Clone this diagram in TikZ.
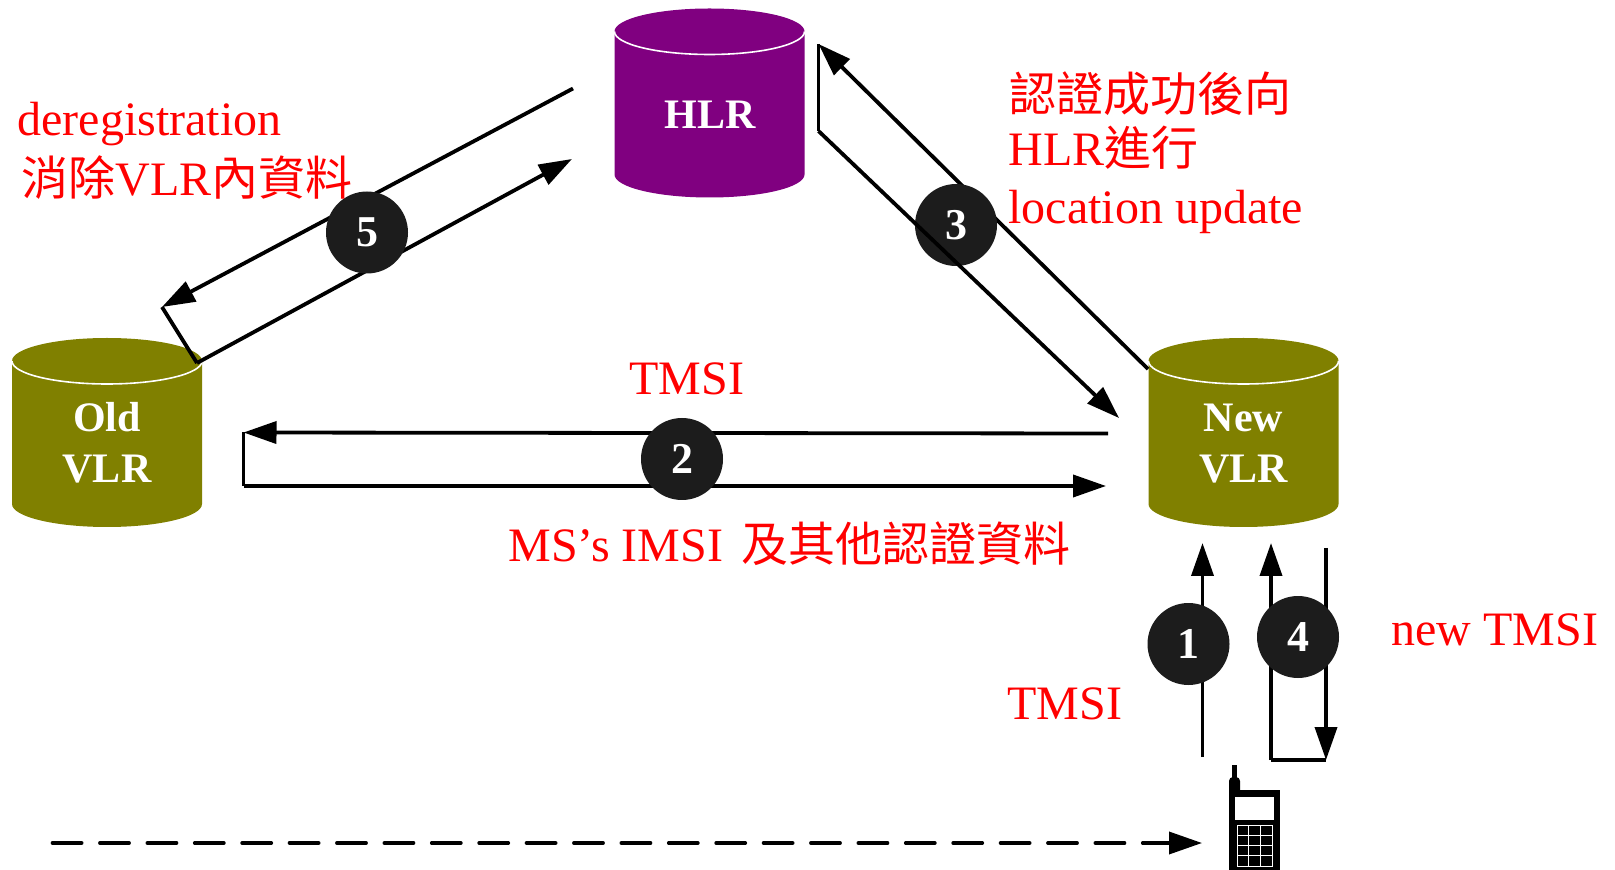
\documentclass[tikz,border=0pt]{standalone}
\usepackage{fontspec}
\setmainfont{Liberation Serif}
\newfontfamily\cjk{Noto Sans CJK TC}
\usetikzlibrary{arrows.meta}
\definecolor{dbolive}{HTML}{808000}
\definecolor{dbpurple}{HTML}{800080}
\definecolor{discdark}{HTML}{1C1C1C}
\tikzset{
  x=0.5pt,y=-0.5pt,
  flow/.style={line width=1.9pt,line join=miter,-{Triangle[length=16.5pt,width=11pt]}},
  plainline/.style={line width=1.9pt,line join=miter},
  disc/.style={circle,fill=discdark,minimum size=41pt,inner sep=0pt,text=white,font=\fontsize{22}{24}\selectfont\bfseries},
  redtext/.style={anchor=base west,inner sep=0pt,text=red,font=\fontsize{24}{28}\selectfont},
  dblabel/.style={align=center,text=white,inner sep=0pt,font=\fontsize{21}{25.5}\selectfont\bfseries},
}
\newcommand{\cjkm}[1]{{\cjk\fontsize{23.5}{28}\selectfont #1}}
\newcommand{\dbshape}[3]{% centre x, top y, colour
  \fill[#3] (#1-95,#2+23) arc[x radius=47.5pt,y radius=11.5pt,start angle=180,end angle=0]
    -- (#1+95,#2+166) arc[x radius=47.5pt,y radius=11.5pt,start angle=0,end angle=-180] -- cycle;
  \draw[white,line width=0.8pt] (#1-95,#2+23) arc[x radius=47.5pt,y radius=11.5pt,start angle=180,end angle=360];
}
\begin{document}
\begin{tikzpicture}
\useasboundingbox (0,0) rectangle (1615,870);
% databases
\dbshape{709.5}{8.5}{dbpurple}
\dbshape{107}{338}{dbolive}
\dbshape{1243.5}{338}{dbolive}
\node[dblabel] (hlr) at (710,115) {HLR};
\node[dblabel] (oldvlr) at (107,443) {Old\\VLR};
\node[dblabel] (newvlr) at (1243.5,444) {New\\VLR};
% end points
\coordinate (a5a) at (573,88.5);
\coordinate (a5b) at (162,307);
\coordinate (a5c) at (197,363);
\coordinate (a5d) at (572,159);
\coordinate (a3a) at (1148,369);
\coordinate (a3b) at (818.5,44);
\coordinate (a3c) at (818.5,131);
\coordinate (a3d) at (1119,418);
\coordinate (a2a) at (1108,433.5);
\coordinate (a2b) at (243.5,432.5);
\coordinate (a2c) at (243.5,486);
\coordinate (a2d) at (1106,486);
\coordinate (a1a) at (1202.5,757);
\coordinate (a1b) at (1202.5,543);
\coordinate (a4a) at (1271,760);
\coordinate (a4b) at (1271,543);
\coordinate (a4c) at (1326,548);
\coordinate (a4d) at (1326,760);
\coordinate (dasha) at (52.5,843);
\coordinate (dashb) at (1202,843);
% connectors under the discs
\draw[flow] (a5a) -- (a5b);
\draw[plainline] (a5b) -- (a5c);
\draw[flow] (a5c) -- (a5d);
\draw[flow] (a3a) -- (a3b);
\draw[flow] (a2a) -- (a2b);
\draw[plainline] (a2b) -- (a2c);
\draw[flow] (a2c) -- (a2d);
\draw[flow] (a1a) -- (a1b);
\draw[flow] (a4a) -- (a4b);
\draw[plainline] (a4a) -- (a4d);
\draw[flow] (a4c) -- (a4d);
\draw[line width=1.8pt,line cap=round,dash pattern=on 14.6pt off 9.1pt,-{Triangle[length=16.5pt,width=11pt]}] (dasha) -- (dashb);
% discs
\node[disc] (d5) at (367,232.5) {5};
\node[disc] (d3) at (956,225) {3};
\node[disc] (d2) at (682,459) {2};
\node[disc] (d1) at (1188.5,644) {1};
\node[disc] (d4) at (1298,637) {4};
% lower connector of 3 runs over its disc
\draw[plainline] (a3b) -- (a3c);
\draw[flow] (a3c) -- (a3d);
% texts
\node[redtext] (t1) at (17,136) {deregistration};
\node[redtext] (t2) at (21,196) {\cjkm{消除}VLR\cjkm{內資料}};
\node[redtext] (t3) at (1009,112) {\cjkm{認證成功後向}};
\node[redtext] (t4) at (1008,166) {HLR\cjkm{進行}};
\node[redtext] (t5) at (1008,224) {location update};
\node[redtext] (t6) at (629,395) {TMSI};
\node[redtext] (t7) at (508,561) {MS’s IMSI \cjkm{\kern3pt 及其他認證資料}};
\node[redtext] (t8) at (1007,719) {TMSI};
\node[redtext] (t9) at (1391,645) {new TMSI};
% handset
\fill (1232,765) rectangle (1237,780);
\fill[rounded corners=2pt] (1229,777) rectangle (1240,795);
\fill (1229,790) rectangle (1280,870);
\fill[white] (1235,797) rectangle (1274,820);
\draw[white,line width=0.4pt] (1237,825) rectangle (1272,866);
\foreach \gx in {1248,1260} \draw[white,line width=0.4pt] (\gx,825) -- (\gx,866);
\foreach \gy in {835,845,855} \draw[white,line width=0.4pt] (1237,\gy) -- (1272,\gy);
\end{tikzpicture}
\end{document}
